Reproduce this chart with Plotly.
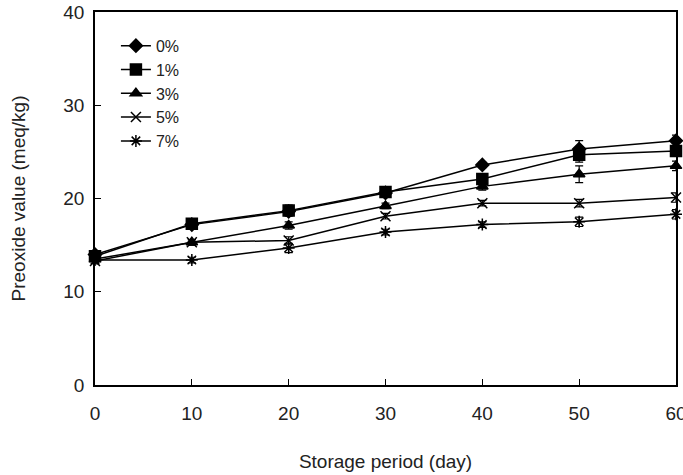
import plotly.graph_objects as go

days = [0, 10, 20, 30, 40, 50, 60]
series_names = ["0%", "1%", "3%", "5%", "7%"]
v0 = [14.0, 17.2, 18.6, 20.6, 23.6, 25.3, 26.2]
v1 = [13.8, 17.3, 18.7, 20.7, 22.1, 24.7, 25.1]
v3 = [13.5, 15.3, 17.1, 19.2, 21.3, 22.6, 23.5]
v5 = [13.3, 15.3, 15.5, 18.1, 19.5, 19.5, 20.1]
v7 = [13.4, 13.4, 14.7, 16.4, 17.2, 17.5, 18.3]
e0 = [0.3, 0.3, 0.4, 0.3, 0.3, 0.9, 0.6]
e1 = [0.3, 0.3, 0.6, 0.3, 0.5, 0.8, 0.5]
e3 = [0.3, 0.3, 0.4, 0.3, 0.4, 0.9, 0.5]
e5 = [0.3, 0.3, 0.4, 0.3, 0.3, 0.4, 0.5]
e7 = [0.3, 0.3, 0.5, 0.3, 0.3, 0.5, 0.5]

values = [v0, v1, v3, v5, v7]
errors = [e0, e1, e3, e5, e7]
symbols = ["diamond", "square", "triangle-up", "x-thin-open", "asterisk-open"]
sizes = [10, 11, 10, 10, 10]

fig = go.Figure()
for name, v, e, sym, sz in zip(series_names, values, errors, symbols, sizes):
    fig.add_trace(go.Scatter(
        x=days, y=v, name=name, mode="lines+markers",
        line=dict(color="black", width=1.5),
        marker=dict(symbol=sym, size=sz, color="black",
                    line=dict(color="black", width=1.5)),
        error_y=dict(type="data", array=e, visible=True, color="black",
                     thickness=1.2, width=4),
        cliponaxis=False,
    ))

fig.update_layout(
    width=683, height=475,
    margin=dict(l=95, r=7, t=12, b=90, autoexpand=False),
    paper_bgcolor="white", plot_bgcolor="white",
    font=dict(family="Liberation Sans, Arial, sans-serif", size=19, color="#222"),
    showlegend=True,
    legend=dict(x=0.036, y=0.955, xanchor="left", yanchor="top",
                bgcolor="rgba(0,0,0,0)", font=dict(size=16),
                tracegroupgap=0, itemwidth=30),
    xaxis=dict(range=[0, 60], tickvals=[0, 10, 20, 30, 40, 50, 60],
               ticks="inside", ticklen=6, tickcolor="black",
               showline=True, linecolor="black", linewidth=1.5, mirror=True,
               showgrid=False, zeroline=False, automargin=False,
               ticklabelstandoff=10, ticklabeloverflow="allow",
               title=dict(text="Storage period (day)", standoff=32, font=dict(size=19))),
    yaxis=dict(range=[0, 40], tickvals=[0, 10, 20, 30, 40],
               ticks="inside", ticklen=6, tickcolor="black",
               showline=True, linecolor="black", linewidth=1.5, mirror=True,
               showgrid=False, zeroline=False, automargin=False,
               ticklabelstandoff=5, ticklabeloverflow="allow",
               title=dict(text="Preoxide value (meq/kg)", standoff=33, font=dict(size=19))),
)

fig.write_html("out.html")
